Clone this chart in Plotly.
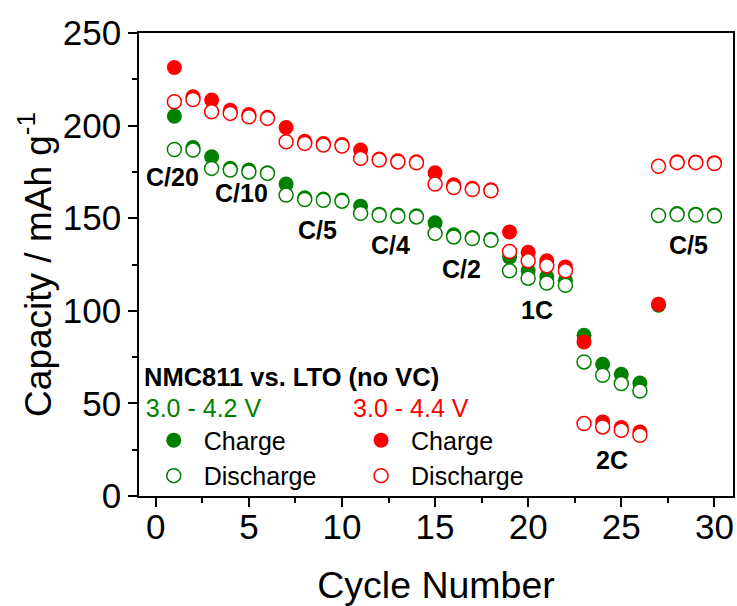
import plotly.graph_objects as go

# Cycle index and measured capacities (mAh/g)
cycles = list(range(1, 31))

# NMC811 vs. LTO, 3.0 - 4.2 V window
charge_42 = [205.1, 188.2, 183.2, 177.0, 176.0, 174.5, 168.4, 161.0, 160.3, 159.8,
             156.5, 152.2, 151.7, 151.3, 147.5, 141.0, 139.6, 138.7, 129.0, 121.6,
             118.3, 116.5, 86.8, 71.1, 65.7, 61.0, 103.0, 152.5, 152.2, 151.7]
discharge_42 = [187.1, 186.8, 176.9, 176.0, 175.0, 174.2, 162.5, 160.1, 159.7, 159.2,
                152.6, 151.6, 151.1, 150.7, 141.8, 139.9, 139.0, 138.1, 121.6, 117.6,
                115.0, 113.8, 72.4, 65.2, 60.7, 56.7, 151.5, 152.0, 151.7, 151.2]

# NMC811 vs. LTO, 3.0 - 4.4 V window
charge_44 = [231.4, 215.6, 213.8, 208.3, 206.0, 204.5, 199.0, 191.5, 190.3, 189.8,
             186.8, 182.0, 181.0, 180.5, 174.5, 168.0, 166.2, 165.4, 142.6, 131.6,
             127.0, 123.7, 83.2, 40.0, 37.0, 34.6, 103.6, 180.5, 180.4, 180.0]
discharge_44 = [212.9, 214.1, 207.5, 206.6, 204.8, 203.9, 191.3, 190.4, 189.5, 189.0,
                182.3, 181.4, 180.4, 179.9, 168.4, 166.6, 165.5, 164.8, 132.0, 127.0,
                124.3, 121.6, 39.1, 37.3, 35.5, 32.8, 178.0, 180.0, 180.0, 179.5]

# C-rate labels and their anchor positions (cycle, capacity)
rate_labels = ["C/20", "C/10", "C/5", "C/4", "C/2", "1C", "2C", "C/5"]
rate_x = [0.9, 4.6, 8.7, 12.6, 16.4, 20.5, 24.5, 28.6]
rate_y = [172, 163.5, 143.5, 135.5, 122.5, 100.5, 19.5, 135.5]

GREEN = "#008000"
RED = "#ff0000"
FONT = "Liberation Sans, Arial, sans-serif"

fig = go.Figure()

fig.add_trace(go.Scatter(
    x=cycles, y=charge_42, mode="markers", name="Charge", legend="legend",
    marker=dict(symbol="circle", size=15, color=GREEN, line=dict(width=0)),
))
fig.add_trace(go.Scatter(
    x=cycles, y=charge_44, mode="markers", name="Charge", legend="legend2",
    marker=dict(symbol="circle", size=15, color=RED, line=dict(width=0)),
))
fig.add_trace(go.Scatter(
    x=cycles, y=discharge_42, mode="markers", name="Discharge", legend="legend",
    marker=dict(symbol="circle", size=14, color="white", line=dict(width=1.5, color=GREEN)),
))
fig.add_trace(go.Scatter(
    x=cycles, y=discharge_44, mode="markers", name="Discharge", legend="legend2",
    marker=dict(symbol="circle", size=14, color="white", line=dict(width=1.5, color=RED)),
))

for txt, xv, yv in zip(rate_labels, rate_x, rate_y):
    fig.add_annotation(x=xv, y=yv, text=f"<b>{txt}</b>", showarrow=False,
                       font=dict(family=FONT, size=25, color="black"))

fig.add_annotation(x=0.005, y=0.2565, xref="paper", yref="paper",
                   xanchor="left", yanchor="middle", showarrow=False,
                   text="<b>NMC811 vs. LTO (no VC)</b>",
                   font=dict(family=FONT, size=25.5, color="black"))

axis_common = dict(
    showline=True, linecolor="black", linewidth=1.5, mirror=True,
    ticks="outside", ticklen=9, tickwidth=1.5, tickcolor="black",
    showgrid=False, zeroline=False,
    tickfont=dict(family=FONT, size=35, color="black"),
)

fig.update_layout(
    width=737, height=606,
    margin=dict(l=139, r=2, t=33, b=110),
    paper_bgcolor="white", plot_bgcolor="white",
    font=dict(family=FONT, color="black"),
    xaxis=dict(
        range=[-0.9, 31.0], tick0=0, dtick=5,
        minor=dict(dtick=2.5, ticks="outside", ticklen=5, tickwidth=1.5, tickcolor="black"),
        title=dict(text="Cycle Number", font=dict(family=FONT, size=37.5), standoff=31),
        ticklabelstandoff=-10,
        **axis_common,
    ),
    yaxis=dict(
        range=[0, 250], tick0=0, dtick=50,
        minor=dict(dtick=25, ticks="outside", ticklen=5, tickwidth=1.5, tickcolor="black"),
        title=dict(text="Capacity / mAh g<sup>-1</sup>", font=dict(family=FONT, size=37), standoff=0),
        **axis_common,
    ),
    legend=dict(
        x=0.008, y=0.24, xanchor="left", yanchor="top",
        bgcolor="rgba(0,0,0,0)", borderwidth=0, itemwidth=50,
        title=dict(text="3.0 - 4.2 V", font=dict(family=FONT, size=25, color=GREEN)),
        font=dict(family=FONT, size=25, color="black"),
        tracegroupgap=0,
    ),
    legend2=dict(
        x=0.357, y=0.24, xanchor="left", yanchor="top",
        bgcolor="rgba(0,0,0,0)", borderwidth=0, itemwidth=50,
        title=dict(text="3.0 - 4.4 V", font=dict(family=FONT, size=25, color=RED)),
        font=dict(family=FONT, size=25, color="black"),
        tracegroupgap=0,
    ),
)

fig.write_html("out.html")
